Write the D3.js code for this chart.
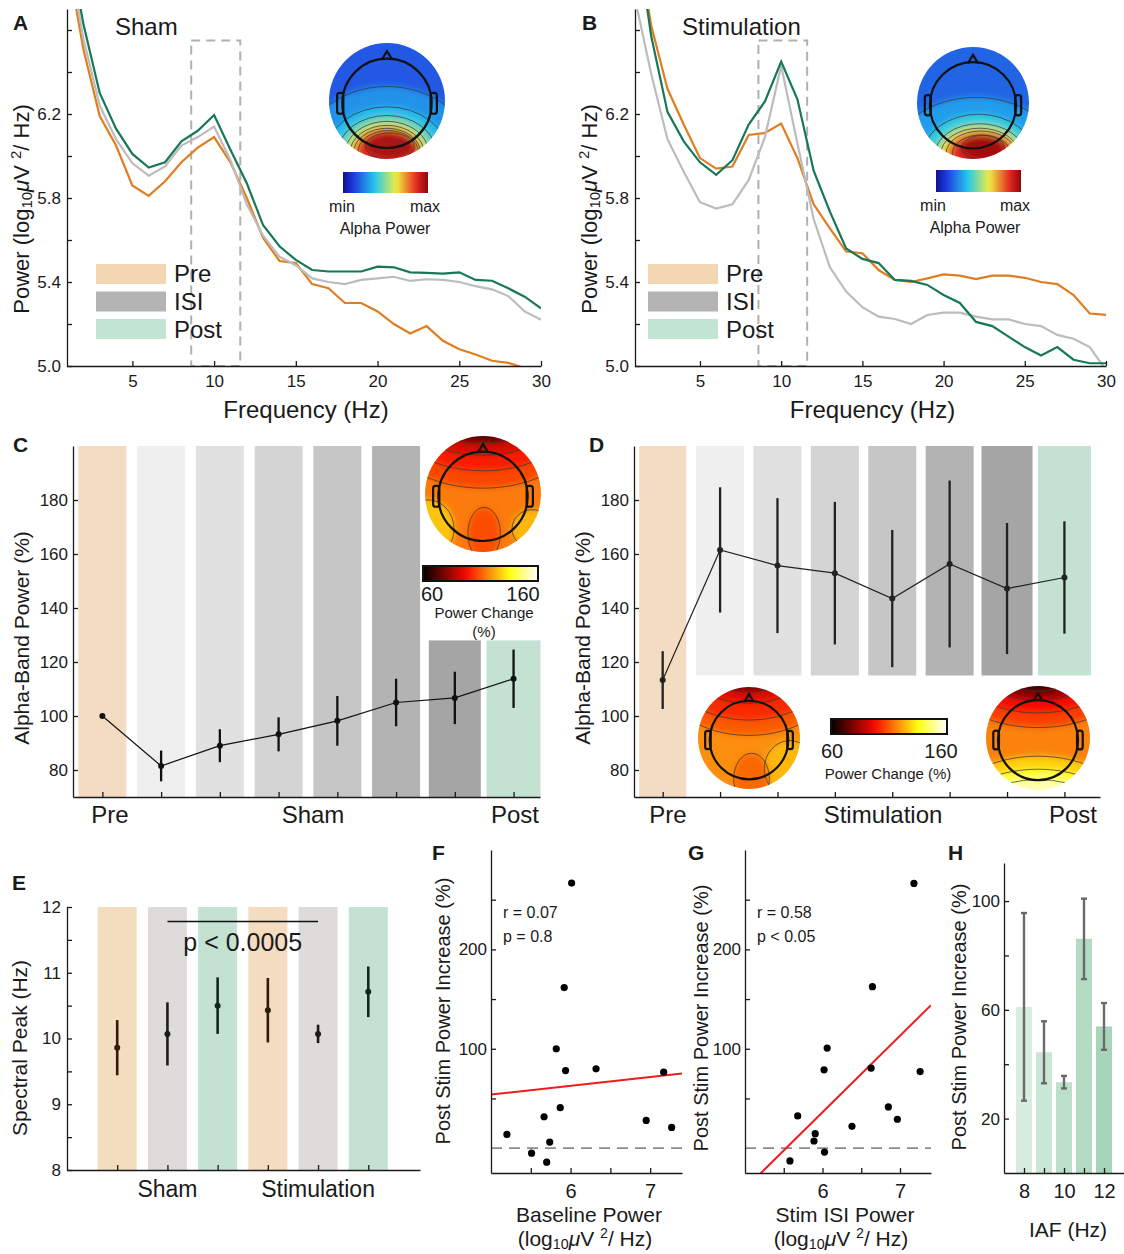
<!DOCTYPE html>
<html>
<head>
<meta charset="utf-8">
<title>Alpha power figure</title>
<script src="https://cdn.jsdelivr.net/npm/d3@7/dist/d3.min.js"></script>
<style>
  body { margin: 0; background: #fff; }
  svg text { font-family: "Liberation Sans", Arial, Helvetica, sans-serif; fill: #1a1a1a; }
  .axis path, .axis line { stroke: #1a1a1a; stroke-width: 1.3; }
  .axis text { font-size: 17px; fill: #1a1a1a; }
  .letter { font-weight: bold; font-size: 21px; }
</style>
</head>
<body>
<div id="fig"></div>
<script>
// ---------------- data ----------------
var freqs = [1,2,3,4,5,6,7,8,9,10,11,12,13,14,15,16,17,18,19,20,21,22,23,24,25,26,27,28,29,30];

// A: sham session spectra (log10 uV^2/Hz)
var shamPre  = [6.95,6.51,6.19,6.05,5.86,5.81,5.88,5.97,6.04,6.09,5.97,5.80,5.61,5.50,5.49,5.39,5.37,5.30,5.30,5.26,5.20,5.155,5.19,5.12,5.08,5.055,5.025,5.015,4.99,4.97];
var shamIsi  = [7.00,6.56,6.24,6.08,5.965,5.906,5.95,6.05,6.09,6.14,5.98,5.77,5.62,5.52,5.48,5.417,5.40,5.39,5.41,5.417,5.425,5.405,5.413,5.41,5.40,5.38,5.365,5.333,5.26,5.22];
var shamPost = [7.05,6.63,6.30,6.13,6.01,5.945,5.97,6.07,6.12,6.195,6.03,5.87,5.67,5.57,5.505,5.457,5.45,5.45,5.45,5.473,5.47,5.446,5.443,5.44,5.446,5.41,5.406,5.37,5.33,5.275];
// B: stimulation session spectra
var stimPre  = [7.10,6.62,6.32,6.15,5.99,5.94,5.95,6.10,6.11,6.155,5.99,5.77,5.655,5.545,5.537,5.457,5.41,5.40,5.417,5.436,5.43,5.414,5.43,5.43,5.42,5.40,5.39,5.338,5.25,5.243];
var stimIsi  = [6.75,6.39,6.08,5.925,5.78,5.75,5.77,5.886,6.09,6.43,6.06,5.70,5.47,5.354,5.28,5.235,5.224,5.20,5.243,5.254,5.254,5.235,5.222,5.222,5.20,5.19,5.148,5.13,5.09,4.98];
var stimPost = [7.10,6.57,6.21,6.07,5.97,5.91,5.98,6.15,6.26,6.45,6.27,5.93,5.735,5.56,5.51,5.49,5.41,5.405,5.386,5.338,5.30,5.21,5.19,5.14,5.09,5.05,5.09,5.03,5.013,5.013];
var alphaBand = [8.6, 11.6];
var conditions = ["Pre", "ISI", "Post"];

// C / D: alpha-band power per block (% of sham pre)
var blocks = ["Pre", "B1", "B2", "B3", "B4", "B5", "B6", "Post"];
var shamBlockMean = [100, 81.5, 89, 93.2, 98.2, 105, 106.7, 113.8];
var shamBlockSem  = [0, 5.7, 6.1, 6.3, 9.2, 8.8, 9.7, 10.8];
var stimBlockMean = [113.3, 161.5, 155.7, 152.9, 143.5, 156.3, 147.2, 151.3];
var stimBlockSem  = [10.7, 23.2, 25.0, 26.4, 25.4, 30.9, 24.3, 20.8];

// E: spectral peak
var peakCond = ["Pre", "ISI", "Post", "Pre", "ISI", "Post"];
var peakMean = [9.86, 10.07, 10.5, 10.43, 10.07, 10.71];
var peakSem  = [0.42, 0.48, 0.43, 0.49, 0.14, 0.385];
var peakSig  = [1, 4];

// F: baseline power vs post stim increase
var basePower   = [5.20, 5.51, 5.70, 5.667, 5.738, 5.87, 5.82, 5.937, 5.92, 6.013, 6.32, 6.95, 7.17, 7.27];
var postIncBase = [13.8, -5.1, -14.1, 31.6, 6.1, 40.7, 100, 78.1, 161.6, 266.7, 79.8, 27.9, 76.4, 20.9];
var fitBase     = [8.83, 9.75];   // slope, intercept
var statsBase   = ["r = 0.07", "p = 0.8"];

// G: stim ISI power vs post stim increase
var isiPower   = [7.18, 6.644, 6.06, 6.02, 6.627, 7.26, 5.68, 6.85, 6.966, 6.38, 5.906, 5.89, 6.026, 5.58];
var postIncIsi = [266.4, 162.5, 100.7, 78.8, 80.5, 77.1, 32.4, 41.5, 29.1, 22.0, 14.6, 7.2, -3.9, -12.9];
var fitIsi     = [77.0, -425.9];
var statsIsi   = ["r = 0.58", "p < 0.05"];

// H: post stim increase by IAF
var iafBins = [8, 9, 10, 11, 12];
var iafMean = [61.1, 44.4, 33.4, 86.1, 53.9];
var iafSem  = [34.5, 11.4, 2.3, 14.8, 8.6];

// topography blobs: [value, cx, cy, rx, ry] in units of map radius
var topoShamAlpha = [[0.28,0,1.0,1.5,1.25],[0.36,0,0.92,1.05,0.82],[0.45,0,0.9,0.85,0.65],[0.56,0,0.9,0.72,0.55],
                     [0.66,0,0.9,0.64,0.48],[0.76,0,0.9,0.58,0.43],[0.86,0.02,0.88,0.52,0.37],[0.96,0.05,0.78,0.42,0.23]];
var topoStimAlpha = [[0.30,0.05,1.0,1.5,1.1],[0.40,0.1,0.95,1.0,0.75],[0.52,0.12,0.92,0.8,0.55],[0.64,0.12,0.92,0.7,0.47],
                     [0.76,0.14,0.9,0.62,0.4],[0.88,0.15,0.9,0.52,0.33],[0.97,0.18,0.8,0.38,0.22]];
var topoShamChange = [[0.66,-0.95,0.6,0.45,0.5],[0.64,0.85,0.6,0.35,0.33],[0.47,0,-1.15,1.7,1.05],[0.41,0,-1.25,1.5,0.85],
                      [0.32,0,-1.35,1.3,0.68],[0.14,0,-1.4,1.1,0.52],[0.48,0.02,0.68,0.28,0.45]];
var topoStimEarly = [[0.64,0.8,0.6,0.5,0.55],[0.50,0,-1.2,1.7,1.15],[0.43,0,-1.3,1.5,0.95],[0.34,0,-1.4,1.2,0.72],
                     [0.18,0,-1.45,0.9,0.55],[0.52,0.05,0.8,0.35,0.5]];
var topoStimLate = [[0.68,0,1.35,1.7,1.0],[0.8,0,1.5,1.6,0.9],[0.92,0,1.6,1.4,0.8],[0.46,0,-1.25,1.8,1.05],
                    [0.38,0,-1.3,1.5,0.82],[0.22,0,-1.4,1.2,0.68],[0.05,0,-1.5,0.9,0.6]];

// ---------------- styles ----------------
var swatchColor = {Pre: "#f5d6b2", ISI: "#b4b4b4", Post: "#c1e5d2"};
var lineColor   = {Pre: "#e07d1f", ISI: "#bcbcbc", Post: "#17775a"};
var blockFill   = ["#f3dcc1", "#efefef", "#e1e1e1", "#d4d4d4", "#c6c6c6", "#b3b3b3", "#a5a5a5", "#c3e2d2"];
var peakFill    = {Pre: "#f4dcc0", ISI: "#dddcda", Post: "#c3e2d1"};
var peakErr     = {Pre: "#2e1c0c", ISI: "#1c1c1c", Post: "#0e2a1b"};
var iafFill     = ["#d8ece0", "#cae6d5", "#bde0cb", "#b2dbc2", "#a7d5b8"];

var jet = d3.scaleLinear().domain([0, 0.125, 0.375, 0.625, 0.875, 1])
  .range(["#10108f", "#1e3ae0", "#25c8ee", "#f0ee40", "#e42222", "#8a0a0a"]);
var hot = d3.scaleLinear().domain([0, 0.375, 0.75, 1])
  .range(["#000000", "#f80800", "#ffff10", "#ffffff"]);

var svg = d3.select("#fig").append("svg").attr("width", 1124).attr("height", 1254);
svg.append("rect").attr("width", 1124).attr("height", 1254).attr("fill", "#fff");
var defs = svg.append("defs");
defs.append("filter").attr("id", "soft").attr("x", "-20%").attr("y", "-20%").attr("width", "140%").attr("height", "140%")
  .append("feGaussianBlur").attr("stdDeviation", 3);

// ---------------- helpers ----------------
function yAxis(x, scale, major, minor, fmt, pad) {
  var g = svg.append("g").attr("class", "axis").attr("transform", "translate(" + x + ",0)");
  g.call(d3.axisLeft(scale).tickValues(major).tickFormat(fmt).tickSize(-5).tickSizeOuter(0).tickPadding(pad || 6));
  if (minor) {
    g.append("g").call(d3.axisLeft(scale).tickValues(minor).tickFormat("").tickSize(-5).tickSizeOuter(0))
      .select(".domain").remove();
  }
  return g;
}
function xAxis(y, scale, major, fmt, pad) {
  var g = svg.append("g").attr("class", "axis").attr("transform", "translate(0," + y + ")");
  g.call(d3.axisBottom(scale).tickValues(major).tickFormat(fmt).tickSize(-5).tickSizeOuter(0).tickPadding(pad || 9));
  return g;
}
function text(x, y, s, size, anchor) {
  return svg.append("text").attr("x", x).attr("y", y).attr("font-size", size)
    .attr("text-anchor", anchor || "start").text(s);
}
function vlabel(x, y, size) {
  return svg.append("text").attr("transform", "translate(" + x + "," + y + ") rotate(-90)")
    .attr("font-size", size).attr("text-anchor", "middle");
}
function unitsText(t, prefix) {
  t.append("tspan").text(prefix + "(log");
  t.append("tspan").attr("font-size", "0.68em").attr("dy", 3).text("10");
  t.append("tspan").attr("dy", -3).attr("font-style", "italic").text("\u03bc");
  t.append("tspan").text("V ");
  t.append("tspan").attr("font-size", "0.68em").attr("dy", -8).text("2");
  t.append("tspan").attr("dy", 8).text("/ Hz)");
}
function letter(x, y, s) {
  svg.append("text").attr("class", "letter").attr("x", x).attr("y", y).text(s);
}
function colorbar(id, x, y, w, h, cmap, border) {
  var lg = defs.append("linearGradient").attr("id", id);
  d3.range(0, 1.001, 0.05).forEach(function(t) {
    lg.append("stop").attr("offset", t).attr("stop-color", cmap(t));
  });
  svg.append("rect").attr("x", x).attr("y", y).attr("width", w).attr("height", h)
    .attr("fill", "url(#" + id + ")")
    .attr("stroke", border ? "#111" : "none").attr("stroke-width", 2);
}
function topo(id, cx, cy, r, cmap, base, blobs) {
  var g = svg.append("g").attr("transform", "translate(" + cx + "," + cy + ")");
  defs.append("clipPath").attr("id", id).append("circle").attr("r", r);
  var m = g.append("g").attr("clip-path", "url(#" + id + ")");
  var fillG = m.append("g").attr("filter", "url(#soft)");
  fillG.append("circle").attr("r", r * 1.3).attr("fill", cmap(base));
  function ell(sel) {
    sel.attr("cx", function(d) { return d[1] * r; })
      .attr("cy", function(d) { return d[2] * r; })
      .attr("rx", function(d) { return d[3] * r; })
      .attr("ry", function(d) { return d[4] * r; });
  }
  fillG.selectAll("ellipse").data(blobs).join("ellipse").call(ell)
    .attr("fill", function(d) { return cmap(d[0]); });
  m.append("g").selectAll("ellipse").data(blobs).join("ellipse").call(ell)
    .attr("fill", "none").attr("stroke", "#3a3a3a").attr("stroke-width", 1).attr("stroke-opacity", 0.75);
  var hr = 0.77 * r, hy = 0.04 * r;
  g.append("path")
    .attr("d", "M" + (-0.09 * r) + "," + (hy - hr + 1) + "L0," + (hy - hr - 0.13 * r) + "L" + (0.09 * r) + "," + (hy - hr + 1))
    .attr("fill", "none").attr("stroke", "#111").attr("stroke-width", 2.2);
  [-1, 1].forEach(function(s) {
    g.append("rect").attr("x", s < 0 ? -hr - 0.09 * r : hr - 1).attr("y", hy - 0.18 * r)
      .attr("width", 0.09 * r + 1).attr("height", 0.36 * r).attr("rx", 2.5)
      .attr("fill", "none").attr("stroke", "#111").attr("stroke-width", 2.2);
  });
  g.append("circle").attr("cy", hy).attr("r", hr).attr("fill", "none").attr("stroke", "#111").attr("stroke-width", 2.2);
}

// ---------------- A / B spectra ----------------
function spectrum(o) {
  var x = d3.scaleLinear().domain([1, 30]).range([o.x0, o.x1]);
  var y = d3.scaleLinear().domain([5.0, 6.7]).range([366, 9]);
  svg.append("rect").attr("x", x(alphaBand[0])).attr("y", y(6.55))
    .attr("width", x(alphaBand[1]) - x(alphaBand[0])).attr("height", y(5.0) - y(6.55))
    .attr("fill", "none").attr("stroke", "#b0b0b0").attr("stroke-width", 2).attr("stroke-dasharray", "9,6");
  defs.append("clipPath").attr("id", o.id).append("rect")
    .attr("x", o.x0).attr("y", 9).attr("width", o.x1 - o.x0).attr("height", 357);
  var line = d3.line().x(function(d, i) { return x(freqs[i]); }).y(function(d) { return y(d); });
  var lg = svg.append("g").attr("clip-path", "url(#" + o.id + ")");
  conditions.forEach(function(c) {
    lg.append("path").datum(o.series[c]).attr("d", line)
      .attr("fill", "none").attr("stroke", lineColor[c]).attr("stroke-width", 2.2);
  });
  yAxis(o.x0, y, [5.0, 5.4, 5.8, 6.2], [5.2, 5.6, 6.0, 6.4, 6.6], d3.format(".1f"));
  xAxis(366, x, [5, 10, 15, 20, 25, 30], d3.format("d"));
  conditions.forEach(function(c, i) {
    svg.append("rect").attr("x", o.legX).attr("y", 264 + i * 27.5).attr("width", 70).attr("height", 20)
      .attr("fill", swatchColor[c]);
    text(o.legX + 78, 282 + i * 28, c, 24);
  });
  text(o.titleX, 35, o.title, 24);
  text((o.x0 + o.x1) / 2 + 2, 418, "Frequency (Hz)", 24, "middle");
  unitsText(vlabel(o.x0 - 38, 209, 22), "Power ");
}
spectrum({id: "clipA", x0: 67, x1: 541, legX: 96, titleX: 115, title: "Sham",
  series: {Pre: shamPre, ISI: shamIsi, Post: shamPost}});
spectrum({id: "clipB", x0: 635, x1: 1106, legX: 648, titleX: 682, title: "Stimulation",
  series: {Pre: stimPre, ISI: stimIsi, Post: stimPost}});
letter(13, 30, "A");
letter(582, 30, "B");

topo("topoA", 387, 101, 58, jet, 0.18, topoShamAlpha);
colorbar("jetA", 343, 172, 85, 21, jet, false);
text(342, 212, "min", 16, "middle");
text(425, 212, "max", 16, "middle");
text(385, 234, "Alpha Power", 16, "middle");

topo("topoB", 973, 103, 56, jet, 0.2, topoStimAlpha);
colorbar("jetB", 936, 170, 85, 22, jet, false);
text(933, 211, "min", 16, "middle");
text(1015, 211, "max", 16, "middle");
text(975, 233, "Alpha Power", 16, "middle");

// ---------------- C / D block time course ----------------
function blockPanel(o) {
  var x = d3.scaleLinear().domain(o.xdom).range([o.x0, o.x1]);
  var y = d3.scaleLinear().domain([70, 200]).range([797, 446]);
  svg.append("g").selectAll("rect").data(blocks).join("rect")
    .attr("x", function(d, i) { return x(i) - o.widths[i] / 2; })
    .attr("width", function(d, i) { return o.widths[i]; })
    .attr("y", function(d, i) { return y(o.tops[i]); })
    .attr("height", function(d, i) { return y(o.bots[i]) - y(o.tops[i]); })
    .attr("fill", function(d, i) { return blockFill[i]; });
  yAxis(o.x0, y, [80, 100, 120, 140, 160, 180], null, d3.format("d"), 5);
  xAxis(797, x, d3.range(blocks.length), "", 9);
  var g = svg.append("g");
  g.selectAll("line.err").data(o.mean).join("line").attr("class", "err")
    .attr("x1", function(d, i) { return x(i); }).attr("x2", function(d, i) { return x(i); })
    .attr("y1", function(d, i) { return y(d - o.sem[i]); })
    .attr("y2", function(d, i) { return y(d + o.sem[i]); })
    .attr("stroke", o.ink).attr("stroke-width", 2.3);
  g.append("path").datum(o.mean)
    .attr("d", d3.line().x(function(d, i) { return x(i); }).y(function(d) { return y(d); }))
    .attr("fill", "none").attr("stroke", o.ink).attr("stroke-width", 1.2);
  g.selectAll("circle").data(o.mean).join("circle")
    .attr("cx", function(d, i) { return x(i); }).attr("cy", function(d) { return y(d); })
    .attr("r", 3).attr("fill", o.ink);
  o.labels.forEach(function(l) { text(l[1], 823, l[0], 24, "middle"); });
  vlabel(o.x0 - 44, 638, 21).text("Alpha-Band Power (%)");
}
blockPanel({x0: 73, x1: 540, xdom: [-0.5, 7.45], mean: shamBlockMean, sem: shamBlockSem, ink: "#111",
  widths: [48, 48, 48, 48, 48, 48, 52, 54],
  tops: [200, 200, 200, 200, 200, 200, 128, 128], bots: [70, 70, 70, 70, 70, 70, 70, 70],
  labels: [["Pre", 110], ["Sham", 313], ["Post", 515]]});
blockPanel({x0: 634, x1: 1100, xdom: [-0.5, 7.62], mean: stimBlockMean, sem: stimBlockSem, ink: "#222",
  widths: [47, 48, 48, 48, 48, 48, 51, 53],
  tops: [200, 200, 200, 200, 200, 200, 200, 200], bots: [70, 115, 115, 115, 115, 115, 115, 115],
  labels: [["Pre", 668], ["Stimulation", 883], ["Post", 1073]]});
letter(13, 452, "C");
letter(589, 452, "D");

topo("topoC", 483, 494, 58, hot, 0.55, topoShamChange);
colorbar("hotC", 423, 566, 115, 15, hot, true);
text(432, 601, "60", 20, "middle");
text(523, 601, "160", 20, "middle");
text(484, 618, "Power Change", 15, "middle");
text(484, 637, "(%)", 15, "middle");

topo("topoD1", 749, 738, 51, hot, 0.58, topoStimEarly);
topo("topoD2", 1038, 738, 52, hot, 0.56, topoStimLate);
colorbar("hotD", 831, 719, 116, 15, hot, true);
text(832, 758, "60", 20, "middle");
text(941, 758, "160", 20, "middle");
text(888, 779, "Power Change (%)", 15, "middle");

// ---------------- E spectral peak ----------------
(function() {
  var x = d3.scaleLinear().domain([-1, 6.03]).range([67, 420]);
  var y = d3.scaleLinear().domain([8, 12]).range([1170, 907]);
  svg.append("g").selectAll("rect").data(peakCond).join("rect")
    .attr("x", function(d, i) { return x(i) - 19.5; }).attr("width", 39)
    .attr("y", y(12)).attr("height", y(8) - y(12))
    .attr("fill", function(d) { return peakFill[d]; });
  yAxis(67, y, [8, 9, 10, 11, 12], [8.5, 9.5, 10.5, 11.5], d3.format("d"), 6);
  xAxis(1170, x, d3.range(peakCond.length), "", 9);
  var g = svg.append("g");
  g.selectAll("line").data(peakMean).join("line")
    .attr("x1", function(d, i) { return x(i); }).attr("x2", function(d, i) { return x(i); })
    .attr("y1", function(d, i) { return y(d - peakSem[i]); })
    .attr("y2", function(d, i) { return y(d + peakSem[i]); })
    .attr("stroke", function(d, i) { return peakErr[peakCond[i]]; }).attr("stroke-width", 2.6);
  g.selectAll("circle").data(peakMean).join("circle")
    .attr("cx", function(d, i) { return x(i); }).attr("cy", function(d) { return y(d); })
    .attr("r", 3).attr("fill", function(d, i) { return peakErr[peakCond[i]]; });
  svg.append("line").attr("x1", x(peakSig[0])).attr("x2", x(peakSig[1]))
    .attr("y1", y(11.78)).attr("y2", y(11.78)).attr("stroke", "#111").attr("stroke-width", 1.6);
  text((x(peakSig[0]) + x(peakSig[1])) / 2, 951, "p < 0.0005", 25, "middle");
  text(x(1), 1197, "Sham", 23, "middle");
  text(x(4), 1197, "Stimulation", 23, "middle");
  vlabel(27, 1048, 21).text("Spectral Peak (Hz)");
  letter(12, 890, "E");
})();

// ---------------- F / G scatter ----------------
function scatter(o) {
  var x = d3.scaleLinear().domain([5, 7.4]).range([o.x0, o.x1]);
  var y = d3.scaleLinear().domain([-25, 300]).range([1173, 850]);
  svg.append("line").attr("x1", x(5)).attr("x2", x(7.4)).attr("y1", y(0)).attr("y2", y(0))
    .attr("stroke", "#8a8a8a").attr("stroke-width", 1.8).attr("stroke-dasharray", "11,7");
  defs.append("clipPath").attr("id", o.id).append("rect")
    .attr("x", o.x0).attr("y", 850).attr("width", o.x1 - o.x0).attr("height", 323);
  svg.append("line").attr("clip-path", "url(#" + o.id + ")")
    .attr("x1", x(5)).attr("x2", x(7.4))
    .attr("y1", y(o.fit[0] * 5 + o.fit[1])).attr("y2", y(o.fit[0] * 7.4 + o.fit[1]))
    .attr("stroke", "#ee1c1c").attr("stroke-width", 2);
  svg.append("g").selectAll("circle").data(o.xs).join("circle")
    .attr("cx", function(d) { return x(d); }).attr("cy", function(d, i) { return y(o.ys[i]); })
    .attr("r", 3.6).attr("fill", "#000");
  yAxis(o.x0, y, [100, 200], [50, 150, 250], d3.format("d"), 4);
  var xa = xAxis(1173, x, [6, 7], d3.format("d"), 11);
  xa.append("g").call(d3.axisBottom(x).tickValues([5.5, 6.5]).tickFormat("").tickSize(-5).tickSizeOuter(0))
    .select(".domain").remove();
  xa.selectAll("text").style("font-size", "20px");
  text(o.x0 + 12, 918, o.stats[0], 16);
  text(o.x0 + 12, 942, o.stats[1], 16);
  text(o.labX, 1222, o.xlabel, 21, "middle");
  unitsText(text(o.labX - 4, 1246, "", 21, "middle"), "");
  vlabel(o.vx, o.vy, 20).text("Post Stim Power Increase (%)");
}
scatter({id: "clipF", x0: 491, x1: 682, xs: basePower, ys: postIncBase, fit: fitBase, stats: statsBase,
  xlabel: "Baseline Power", labX: 589, vx: 450, vy: 1011});
scatter({id: "clipG", x0: 745, x1: 931, xs: isiPower, ys: postIncIsi, fit: fitIsi, stats: statsIsi,
  xlabel: "Stim ISI Power", labX: 845, vx: 708, vy: 1018});
letter(432, 860, "F");
letter(688, 860, "G");

// ---------------- H IAF bars ----------------
(function() {
  var x = d3.scaleLinear().domain([7, 13]).range([1004, 1124]);
  var y = d3.scaleLinear().domain([0, 114]).range([1173, 863]);
  svg.append("g").selectAll("rect").data(iafMean).join("rect")
    .attr("x", function(d, i) { return x(iafBins[i]) - 8; }).attr("width", 16)
    .attr("y", function(d) { return y(d); }).attr("height", function(d) { return y(0) - y(d); })
    .attr("fill", function(d, i) { return iafFill[i]; });
  var g = svg.append("g").attr("stroke", "#6a6a6a").attr("stroke-width", 2.4);
  iafMean.forEach(function(d, i) {
    var cx = x(iafBins[i]), lo = y(d - iafSem[i]), hi = y(d + iafSem[i]);
    g.append("line").attr("x1", cx).attr("x2", cx).attr("y1", lo).attr("y2", hi);
    g.append("line").attr("x1", cx - 3).attr("x2", cx + 3).attr("y1", lo).attr("y2", lo);
    g.append("line").attr("x1", cx - 3).attr("x2", cx + 3).attr("y1", hi).attr("y2", hi);
  });
  yAxis(1004, y, [20, 60, 100], [40, 80], d3.format("d"), 4);
  var xa = xAxis(1173, x, iafBins, function(d) { return d % 2 === 0 ? d : ""; }, 11);
  xa.selectAll("text").style("font-size", "20px");
  text(1068, 1237, "IAF (Hz)", 21, "middle");
  vlabel(966, 1017, 20).text("Post Stim Power Increase (%)");
  letter(948, 860, "H");
})();
</script>
</body>
</html>
